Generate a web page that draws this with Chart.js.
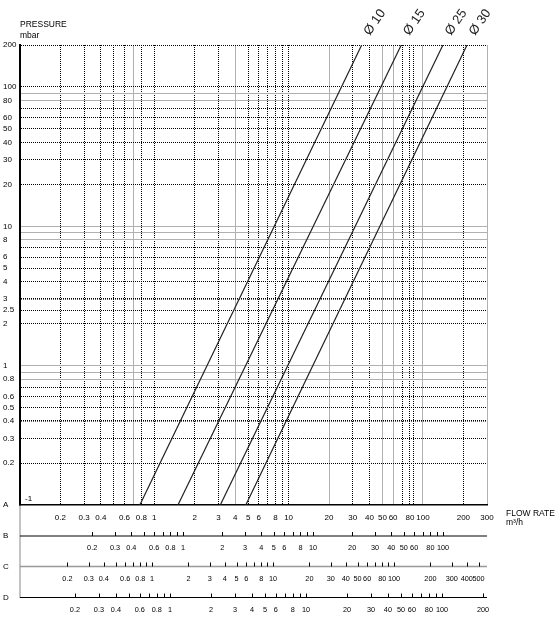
<!DOCTYPE html>
<html>
<head>
<meta charset="utf-8">
<script src="https://cdn.jsdelivr.net/npm/chart.js@4/dist/chart.umd.min.js"></script>
<style>
  html, body { margin: 0; padding: 0; background: #fff; }
</style>
</head>
<body>
<canvas id="myChart" width="558" height="619"></canvas>
<script>
// pressure axis (mbar); the 0.1 line is printed as "-1" inside the plot
const pressureLabels = [200, 100, 80, 60, 50, 40, 30, 20, 10, 8, 6, 5, 4, 3, 2.5, 2, 1, 0.8, 0.6, 0.5, 0.4, 0.3, 0.2];
const pressureBottom = { value: 0.1, text: '-1' };
const pressureDotted = [200, 100, 70, 60, 50, 40, 30, 20, 7, 6, 5, 4, 3, 2.5, 2, 0.7, 0.6, 0.5, 0.4, 0.3, 0.2];
const pressureGray = [90, 80, 10, 9, 8, 1, 0.9, 0.8];
const pressureBold = [3, 0.4];

// flow rate, scale A (m3/h)
const flowLabelsA = [0.2, 0.3, 0.4, 0.6, 0.8, 1, 2, 3, 4, 5, 6, 8, 10, 20, 30, 40, 50, 60, 80, 100, 200, 300];
const flowDotted = [0.2, 0.3, 0.4, 0.5, 0.6, 0.8, 1, 2, 3, 5, 6, 7, 8, 9, 10, 30, 40, 70, 80, 85, 200];
const flowGray = [0.7, 4, 20, 50, 60, 100, 300];

// flow rate, scales B, C, D
const flowLabelsB = [0.2, 0.3, 0.4, 0.6, 0.8, 1, 2, 3, 4, 5, 6, 8, 10, 20, 30, 40, 50, 60, 80, 100];
const flowTicksB = [0.2, 0.3, 0.4, 0.5, 0.6, 0.7, 0.8, 0.9, 1, 2, 3, 4, 5, 6, 7, 8, 9, 10, 20, 30, 40, 50, 60, 70, 80, 90, 100];
const flowLabelsC = [0.2, 0.3, 0.4, 0.6, 0.8, 1, 2, 3, 4, 5, 6, 8, 10, 20, 30, 40, 50, 60, 80, 100, 200, 300, 400, 500];
const flowTicksC = [0.2, 0.3, 0.4, 0.5, 0.6, 0.7, 0.8, 0.9, 1, 2, 3, 4, 5, 6, 7, 8, 9, 10, 20, 30, 40, 50, 60, 70, 80, 90, 100, 200, 300, 400, 500];
const flowLabelsD = [0.2, 0.3, 0.4, 0.6, 0.8, 1, 2, 3, 4, 5, 6, 8, 10, 20, 30, 40, 50, 60, 80, 100, 200];
const flowTicksD = [0.2, 0.3, 0.4, 0.5, 0.6, 0.7, 0.8, 0.9, 1, 2, 3, 4, 5, 6, 7, 8, 9, 10, 20, 30, 40, 50, 60, 70, 80, 90, 100, 200];

// diameter curves: flow (scale A) at 0.1 mbar and at 200 mbar
const diameters = ['Ø 10', 'Ø 15', 'Ø 25', 'Ø 30'];
const flowAtBottom = [0.78, 1.5, 3.1, 4.8];
const flowAtTop = [35, 69, 141, 213];
const pressureEnds = [0.1, 200];

const tickFont = { family: '"Liberation Sans", Arial, sans-serif', size: 8 };
const smallFont = '8px "Liberation Sans", Arial, sans-serif';
const rowFont = '7.3px "Liberation Sans", Arial, sans-serif';
const fmt = v => String(v);
const merge = (...lists) => [...new Set([].concat(...lists))].sort((a, b) => a - b);

const extras = {
    id: 'extras',
    afterDraw(chart) {
        const { ctx, chartArea: area, scales } = chart;
        ctx.save();
        ctx.fillStyle = '#000';
        ctx.textBaseline = 'middle';
        ctx.textAlign = 'left';
        ctx.font = '8.5px "Liberation Sans", Arial, sans-serif';
        ctx.fillText('PRESSURE', 20, 25);
        ctx.fillText('mbar', 20, 36);
        ctx.fillText('FLOW RATE', 506, 514);
        ctx.fillText('m³/h', 506, 523);

        ctx.font = smallFont;
        ctx.fillText(pressureBottom.text, area.left + 5, scales.y.getPixelForValue(pressureBottom.value) - 6);

        // left rule under the plot
        ctx.strokeStyle = '#888';
        ctx.lineWidth = 1;
        ctx.beginPath();
        ctx.moveTo(area.left, area.bottom);
        ctx.lineTo(area.left, 598);
        ctx.stroke();

        const rows = [
            { letter: 'A', y: area.bottom },
            { letter: 'B', y: 536, id: 'xB', ticks: flowTicksB, labels: flowLabelsB, color: '#000', w: 1 },
            { letter: 'C', y: 566.5, id: 'xC', ticks: flowTicksC, labels: flowLabelsC, color: '#999', w: 1.6 },
            { letter: 'D', y: 597.5, id: 'xD', ticks: flowTicksD, labels: flowLabelsD, color: '#000', w: 1 }
        ];
        rows.forEach(r => {
            ctx.font = smallFont;
            ctx.fillStyle = '#000';
            ctx.textAlign = 'left';
            ctx.fillText(r.letter, 3, r.y);
            if (!r.id) return;
            const s = scales[r.id];
            ctx.strokeStyle = r.color;
            ctx.lineWidth = r.w;
            ctx.beginPath();
            ctx.moveTo(area.left, r.y);
            ctx.lineTo(area.right, r.y);
            ctx.stroke();
            ctx.strokeStyle = '#000';
            ctx.lineWidth = 1;
            r.ticks.forEach(v => {
                const px = Math.round(s.getPixelForValue(v)) + 0.5;
                ctx.beginPath();
                ctx.moveTo(px, r.y - 4);
                ctx.lineTo(px, r.y);
                ctx.stroke();
            });
            ctx.font = rowFont;
            ctx.textAlign = 'center';
            r.labels.forEach(v => {
                ctx.fillText(fmt(v), s.getPixelForValue(v), r.y + 12);
            });
        });

        // diameter labels at the top of each line
        ctx.font = '13px "Liberation Sans", Arial, sans-serif';
        ctx.fillStyle = '#222';
        ctx.textAlign = 'left';
        ctx.textBaseline = 'alphabetic';
        diameters.forEach((name, i) => {
            const pt = chart.getDatasetMeta(i).data[1];
            ctx.save();
            ctx.translate(pt.x + 8, pt.y - 9);
            ctx.rotate(-55 * Math.PI / 180);
            ctx.fillText(name, 0, 0);
            ctx.restore();
        });
        ctx.restore();
    }
};

const ctx = document.getElementById('myChart').getContext('2d');

new Chart(ctx, {
    type: 'scatter',
    data: {
        datasets: diameters.map((name, i) => ({
            label: name,
            data: [
                { x: flowAtBottom[i], y: pressureEnds[0] },
                { x: flowAtTop[i], y: pressureEnds[1] }
            ],
            showLine: true,
            borderColor: '#222',
            borderWidth: 1.2,
            pointRadius: 0,
            tension: 0
        }))
    },
    options: {
        responsive: false,
        animation: false,
        devicePixelRatio: 1,
        layout: { padding: { top: 45, right: 71, bottom: 0, left: 3 } },
        plugins: { legend: { display: false }, tooltip: { enabled: false } },
        scales: {
            x: {
                type: 'logarithmic',
                min: 0.1,
                max: 300,
                afterBuildTicks: s => { s.ticks = merge(flowLabelsA, flowDotted, flowGray).map(v => ({ value: v })); },
                afterFit: s => { s.height = 114; },
                ticks: {
                    autoSkip: false,
                    maxRotation: 0,
                    padding: 8,
                    color: '#000',
                    font: tickFont,
                    callback: v => (flowLabelsA.includes(v) ? fmt(v) : '')
                },
                grid: {
                    drawTicks: false,
                    color: c => {
                        const v = c.tick && c.tick.value;
                        if (flowGray.includes(v)) return '#b0b0b0';
                        if (flowDotted.includes(v)) return '#000';
                        return 'rgba(0,0,0,0)';
                    },
                    lineWidth: 1
                },
                border: {
                    display: true,
                    color: '#000',
                    width: 1.5,
                    dash: c => (c.tick && flowGray.includes(c.tick.value) ? [] : [1, 1])
                }
            },
            y: {
                type: 'logarithmic',
                min: 0.1,
                max: 200,
                afterBuildTicks: s => { s.ticks = merge(pressureLabels, pressureDotted, pressureGray).map(v => ({ value: v })); },
                afterFit: s => { s.width = 17; },
                ticks: {
                    autoSkip: false,
                    crossAlign: 'far',
                    color: '#000',
                    font: tickFont,
                    callback: v => (pressureLabels.includes(v) ? fmt(v) : '')
                },
                grid: {
                    drawTicks: false,
                    color: c => {
                        const v = c.tick && c.tick.value;
                        if (pressureGray.includes(v)) return '#b0b0b0';
                        if (pressureDotted.includes(v)) return '#000';
                        return 'rgba(0,0,0,0)';
                    },
                    lineWidth: c => (c.tick && pressureBold.includes(c.tick.value) ? 1.6 : 1)
                },
                border: {
                    display: true,
                    color: '#000',
                    width: 2,
                    dash: c => (c.tick && pressureGray.includes(c.tick.value) ? [] : [1, 1])
                }
            },
            xB: { type: 'logarithmic', axis: 'x', position: 'bottom', display: false, min: 0.0557, max: 218 },
            xC: { type: 'logarithmic', axis: 'x', position: 'bottom', display: false, min: 0.0811, max: 587 },
            xD: { type: 'logarithmic', axis: 'x', position: 'bottom', display: false, min: 0.0789, max: 214 }
        }
    },
    plugins: [extras]
});
</script>
</body>
</html>
